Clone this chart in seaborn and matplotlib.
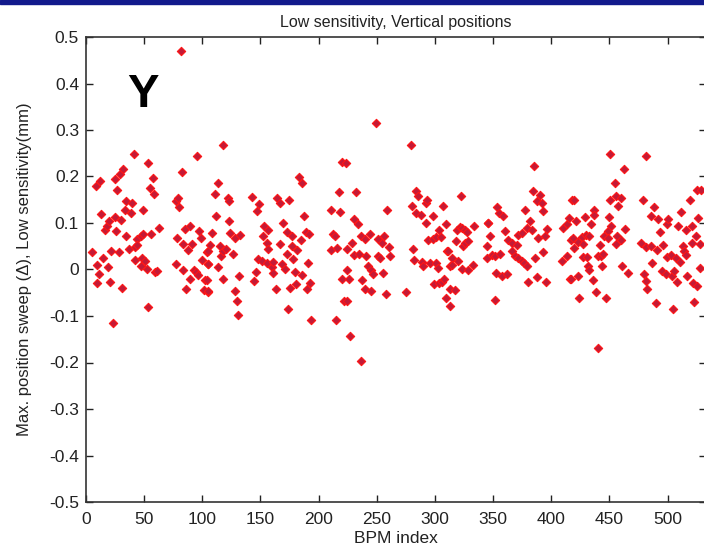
import numpy as np
import pandas as pd
import seaborn as sns
from matplotlib import pyplot as plt
from matplotlib import ticker
from matplotlib.patches import Rectangle

# values (BPM index, max. position sweep in mm)
bpm_index = [
    5.4, 8.3, 9.7, 9.7, 11.2, 12.0, 13.2, 14.3, 16.0, 17.8, 19.2, 19.8, 20.6, 21.7, 23.5,
    24.6, 24.9, 26.1, 26.9, 28.1, 29.2, 29.8, 31.2, 32.1, 33.2, 34.4, 34.4, 36.9, 38.4, 39.8,
    41.2, 41.8, 41.8, 44.1, 44.1, 47.0, 47.5, 48.4, 48.7, 49.3, 50.4, 52.7, 53.5, 53.5, 54.7,
    55.6, 57.3, 58.7, 59.3, 60.7, 62.5, 77.3, 77.3, 78.5, 79.0, 79.9, 81.3, 82.2, 83.6, 83.6,
    85.1, 85.7, 87.9, 89.3, 89.3, 91.3, 92.8, 94.2, 95.1, 96.2, 97.4, 99.1, 99.9, 101.4, 101.9,
    103.7, 104.2, 104.8, 104.8, 105.1, 105.1, 105.1, 106.5, 108.5, 110.8, 111.4, 113.1, 113.1, 115.1, 116.0,
    118.0, 118.0, 118.0, 120.0, 121.7, 122.9, 122.9, 123.7, 126.5, 128.0, 128.0, 129.4, 130.3, 131.4, 132.3,
    142.9, 144.6, 145.8, 146.6, 148.0, 148.9, 151.5, 151.8, 153.2, 155.2, 155.2, 156.7, 156.7, 159.5, 160.9,
    160.9, 163.0, 163.8, 166.7, 166.7, 168.6, 169.5, 171.0, 172.4, 172.4, 173.3, 174.4, 175.3, 177.2, 177.2,
    178.1, 179.6, 180.2, 181.0, 183.2, 184.7, 185.8, 185.8, 187.0, 188.7, 189.6, 191.0, 191.6, 192.4, 193.3,
    210.5, 210.5, 212.5, 214.2, 214.8, 216.2, 217.6, 218.2, 220.5, 220.5, 221.9, 223.4, 224.0, 224.8, 224.8,
    226.2, 226.8, 228.5, 230.5, 230.5, 232.5, 234.0, 234.8, 236.3, 236.3, 237.1, 240.0, 240.0, 241.1, 242.0,
    244.3, 244.8, 244.8, 246.8, 249.1, 250.6, 250.6, 252.6, 254.3, 255.4, 256.6, 257.7, 258.6, 260.6, 261.4,
    274.9, 279.2, 280.6, 281.2, 282.0, 284.1, 284.1, 285.8, 287.8, 288.7, 289.3, 292.1, 292.6, 293.5, 294.4,
    295.5, 297.9, 298.4, 299.2, 300.7, 300.7, 303.0, 303.5, 303.5, 305.0, 305.8, 307.0, 307.8, 309.3, 309.8,
    310.7, 311.6, 312.7, 312.7, 313.0, 314.4, 314.4, 317.3, 318.1, 318.7, 320.1, 321.3, 322.2, 323.0, 323.0,
    324.5, 325.9, 325.9, 327.9, 328.8, 328.8, 332.5, 333.6, 344.5, 344.5, 345.6, 346.0, 347.3, 348.8, 351.6,
    351.6, 352.5, 353.7, 355.4, 355.9, 357.4, 358.9, 360.4, 362.3, 363.1, 366.0, 366.0, 368.9, 370.3, 371.7,
    371.7, 374.6, 374.6, 376.5, 377.4, 379.0, 379.0, 380.3, 381.7, 383.2, 384.0, 385.1, 386.0, 387.5, 387.5,
    388.9, 390.3, 391.8, 392.6, 393.2, 394.6, 395.5, 396.0, 408.9, 410.4, 413.2, 413.8, 415.5, 416.1, 416.7,
    416.9, 417.5, 418.4, 419.2, 419.8, 421.2, 422.7, 423.3, 424.1, 426.1, 427.0, 427.0, 428.9, 429.8, 430.7,
    431.3, 432.7, 432.7, 434.1, 435.6, 436.4, 437.0, 438.4, 439.9, 440.4, 442.1, 442.8, 443.3, 444.2, 445.6,
    447.0, 448.5, 449.1, 449.9, 450.8, 450.8, 451.7, 454.7, 455.6, 455.6, 456.5, 457.0, 459.9, 459.9, 460.5,
    462.2, 463.3, 465.6, 477.0, 478.5, 480.0, 481.4, 481.4, 481.4, 482.3, 485.7, 485.7, 486.3, 488.0, 489.7,
    490.9, 492.0, 493.7, 494.8, 495.7, 498.5, 499.4, 499.4, 500.6, 502.8, 503.4, 504.3, 505.8, 507.1, 508.2,
    509.2, 510.9, 511.4, 512.9, 514.3, 515.7, 515.7, 516.6, 519.5, 520.6, 520.6, 521.5, 522.3, 524.3, 525.2,
    525.2, 526.4, 528.0, 528.0, 528.6,
]
sweep = [
    0.037, 0.179, 0.009, -0.030, -0.009, 0.191, 0.119, 0.025, 0.086, 0.093, 0.006, 0.104, -0.027, 0.039, -0.114,
    0.195, 0.113, 0.082, 0.172, 0.037, 0.205, 0.107, -0.039, 0.217, 0.129, 0.148, 0.071, 0.045, 0.122, 0.142,
    0.249, 0.048, 0.021, 0.066, 0.052, 0.073, 0.007, 0.025, 0.129, 0.077, 0.018, 0.001, 0.229, -0.080, 0.175,
    0.077, 0.197, 0.163, -0.006, -0.004, 0.090, 0.148, 0.011, 0.068, 0.154, 0.135, 0.470, 0.210, 0.055, -0.001,
    0.087, -0.043, 0.043, 0.094, -0.020, 0.054, 0.000, -0.006, 0.245, -0.011, 0.083, 0.068, 0.021, -0.044, -0.023,
    -0.023, 0.037, 0.011, -0.049, 0.039, 0.011, -0.047, 0.052, 0.079, 0.163, 0.116, 0.186, 0.006, 0.050, 0.029,
    0.268, 0.039, -0.020, 0.044, 0.154, 0.147, 0.104, 0.079, 0.034, 0.068, -0.047, -0.068, -0.097, -0.013, 0.075,
    0.156, -0.025, -0.006, 0.125, 0.023, 0.141, 0.018, 0.073, 0.094, 0.057, 0.013, 0.086, 0.044, 0.006, 0.016,
    -0.007, -0.043, 0.154, 0.144, 0.054, 0.011, 0.100, 0.002, 0.080, 0.034, -0.084, 0.149, -0.039, 0.071, 0.050,
    0.023, -0.006, -0.032, 0.043, 0.198, 0.063, 0.187, -0.011, 0.116, 0.080, -0.043, 0.014, 0.077, -0.030, -0.109,
    0.129, 0.041, 0.077, 0.073, -0.109, 0.047, 0.166, 0.123, 0.232, -0.020, -0.068, 0.229, -0.068, 0.044, -0.001,
    -0.020, -0.143, 0.056, 0.109, 0.032, 0.166, 0.097, 0.034, 0.073, -0.197, -0.023, 0.066, -0.041, 0.030, 0.007,
    0.077, 0.000, -0.047, -0.009, 0.315, 0.066, 0.030, 0.025, 0.056, -0.007, 0.071, -0.052, 0.129, 0.049, 0.030,
    -0.049, 0.268, 0.137, 0.044, 0.021, 0.168, 0.122, 0.157, 0.118, 0.016, 0.007, 0.144, 0.099, 0.150, 0.064,
    0.014, 0.116, 0.066, -0.032, 0.070, 0.014, 0.004, 0.084, -0.030, 0.070, -0.027, 0.137, -0.021, -0.061, 0.097,
    0.039, 0.039, 0.007, -0.079, -0.043, 0.025, 0.009, -0.044, 0.061, 0.086, 0.018, 0.091, 0.157, 0.089, 0.001,
    0.050, 0.086, 0.057, 0.080, 0.061, 0.000, 0.009, 0.093, 0.050, 0.025, 0.100, 0.099, 0.071, 0.032, 0.030,
    -0.066, -0.007, 0.134, 0.122, 0.034, -0.014, 0.116, 0.082, -0.009, 0.064, 0.057, 0.039, 0.030, 0.052, 0.075,
    0.025, 0.079, 0.018, 0.014, 0.129, 0.089, 0.007, -0.027, 0.104, 0.084, 0.168, 0.223, 0.025, 0.147, -0.016,
    0.068, 0.161, 0.143, 0.037, 0.125, 0.073, -0.027, 0.087, 0.018, 0.089, 0.097, 0.030, 0.111, -0.020, 0.064,
    -0.020, 0.150, 0.068, 0.150, 0.047, 0.104, 0.059, -0.014, -0.061, 0.070, 0.054, 0.027, 0.113, 0.075, 0.027,
    0.007, 0.073, 0.000, 0.097, -0.023, 0.129, 0.118, -0.049, 0.029, -0.168, 0.052, 0.030, 0.007, 0.034, 0.071,
    -0.061, 0.082, 0.068, 0.113, 0.249, 0.149, 0.093, 0.186, 0.157, 0.054, 0.073, 0.137, 0.154, 0.064, 0.007,
    0.216, 0.087, -0.007, 0.056, 0.149, -0.009, 0.245, 0.049, -0.025, -0.043, 0.116, 0.050, 0.014, 0.134, -0.073,
    0.041, 0.109, 0.080, -0.004, 0.052, -0.009, 0.097, 0.027, 0.109, 0.032, -0.013, -0.086, -0.004, 0.025, -0.027,
    0.093, 0.016, 0.123, 0.050, 0.039, 0.084, 0.032, -0.014, 0.150, 0.093, 0.057, -0.030, -0.070, 0.073, 0.170,
    -0.036, 0.111, 0.054, 0.004, 0.170,
]

df = pd.DataFrame({"BPM index": bpm_index, "sweep": sweep})

sns.set_theme(style="ticks")
plt.rcParams["font.family"] = ["Liberation Sans", "DejaVu Sans"]
plt.rcParams["font.stretch"] = "condensed"
plt.rcParams["axes.unicode_minus"] = False

fig = plt.figure(figsize=(7.04, 5.54), dpi=100)
ax = fig.add_axes([86 / 704, 52 / 554, 620 / 704, 465 / 554])

sns.scatterplot(
    data=df, x="BPM index", y="sweep", ax=ax,
    marker="D", s=18, color="#c41a36", edgecolor="#ff1515", linewidth=0.8, legend=False,
)

ax.set_xlim(0, 533)
ax.set_ylim(-0.5, 0.5)
ax.xaxis.set_major_locator(ticker.MultipleLocator(50))
ax.yaxis.set_major_locator(ticker.MultipleLocator(0.1))
ax.yaxis.set_major_formatter(ticker.FuncFormatter(lambda v, _: f"{round(v, 1):g}"))
ax.tick_params(direction="in", length=5, width=1, colors="#222222", labelcolor="#222222",
               labelsize=12.5, top=True, right=True)
ax.tick_params(axis="x", pad=7)
ax.tick_params(axis="y", pad=5)
for side in ax.spines.values():
    side.set_color("#333333")
    side.set_linewidth(1.2)

ax.set_xlabel("BPM index", fontsize=12.5, color="#222222", labelpad=3)
ax.set_ylabel("Max. position sweep (\u0394), Low sensitivity(mm)", fontsize=12, color="#222222", labelpad=12)
ax.set_title("Low sensitivity, Vertical positions", fontsize=11.5, color="#222222", pad=7)
ax.text(49, 0.376, "Y", fontsize=34, fontweight="bold", color="black",
        family=["Liberation Sans", "DejaVu Sans"], ha="center", va="center")

# dark blue strip across the top of the slide
fig.add_artist(Rectangle((0, 1 - 4 / 554), 1, 4 / 554, transform=fig.transFigure,
                         color="#121a8c", zorder=10))

fig.savefig("out.png", dpi=100)
